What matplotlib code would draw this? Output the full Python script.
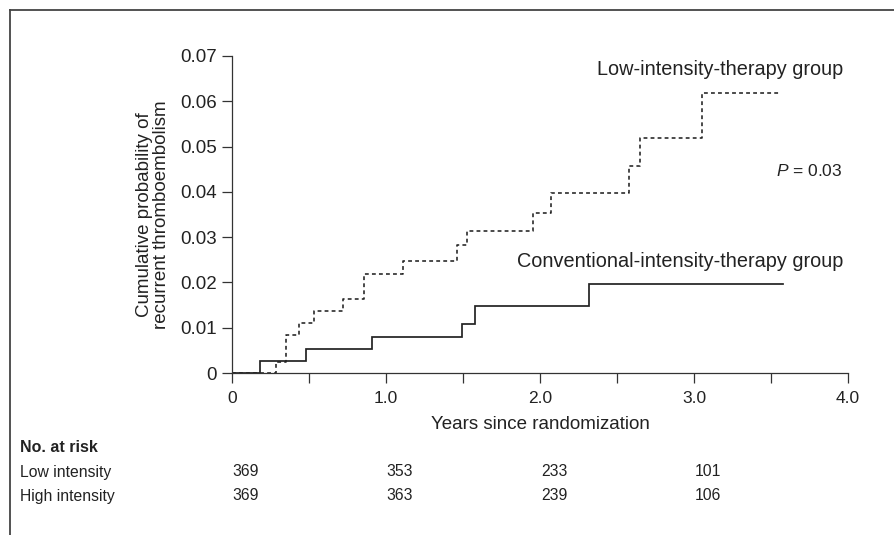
import matplotlib
matplotlib.use("Agg")
import matplotlib.pyplot as plt
from matplotlib.lines import Line2D
from matplotlib.ticker import FixedLocator, FixedFormatter
import matplotlib.transforms as mtransforms

# ---- data ----
conv_time = [0, 0.181, 0.482, 0.911, 1.493, 1.581, 2.315, 3.58]
conv_prob = [0, 0.0027, 0.0053, 0.0079, 0.0109, 0.0147, 0.0196, 0.0196]

low_time = [0, 0.288, 0.349, 0.436, 0.534, 0.724, 0.857, 1.112, 1.464, 1.525,
            1.954, 2.071, 2.580, 2.647, 3.052, 3.55]
low_prob = [0, 0.0025, 0.0083, 0.0111, 0.0137, 0.0163, 0.0218, 0.0247, 0.0282,
            0.0313, 0.0354, 0.0398, 0.0458, 0.0520, 0.0619, 0.0619]

x_ticks = [0, 0.5, 1.0, 1.5, 2.0, 2.5, 3.0, 3.5, 4.0]
x_tick_labels = ["0", "", "1.0", "", "2.0", "", "3.0", "", "4.0"]
y_ticks = [0, 0.01, 0.02, 0.03, 0.04, 0.05, 0.06, 0.07]
y_tick_labels = ["0", "0.01", "0.02", "0.03", "0.04", "0.05", "0.06", "0.07"]

risk_times = [0, 1, 2, 3]
risk_groups = ["Low intensity", "High intensity"]
risk_low = [369, 353, 233, 101]
risk_high = [369, 363, 239, 106]

# ---- fonts ----
plt.rcParams["mathtext.fontset"] = "custom"
plt.rcParams["mathtext.rm"] = "Liberation Sans"
plt.rcParams["mathtext.it"] = "Liberation Sans:italic"
REG = ["Liberation Sans", "DejaVu Sans"]

W, H = 894, 535
fig = plt.figure(figsize=(W / 100, H / 100), dpi=100)
fig.patch.set_facecolor("white")

x0, x1 = 232, 848
yb, yt = 373, 56
ax = fig.add_axes([x0 / W, 1 - yb / H, (x1 - x0) / W, (yb - yt) / H])

ink = "#222222"
ax.step(conv_time, conv_prob, where="post", color=ink, lw=1.25,
        solid_joinstyle="miter")
ax.step(low_time, low_prob, where="post", color=ink, lw=1.15,
        linestyle=(0, (2.4, 2.0)))

ax.set_xlim(0, 4.0)
ax.set_ylim(0, 0.07)
for s in ["top", "right"]:
    ax.spines[s].set_visible(False)
for s in ["left", "bottom"]:
    ax.spines[s].set_color("#333333")
    ax.spines[s].set_linewidth(0.9)

ax.xaxis.set_major_locator(FixedLocator(x_ticks))
ax.xaxis.set_major_formatter(FixedFormatter(x_tick_labels))
ax.yaxis.set_major_locator(FixedLocator(y_ticks))
ax.yaxis.set_major_formatter(FixedFormatter(y_tick_labels))
ax.tick_params(axis="both", direction="out", length=7, width=0.9,
               color="#333333", labelcolor="#222222")
ax.tick_params(axis="x", pad=6)
ax.tick_params(axis="y", pad=4)
for lab in ax.get_yticklabels():
    lab.set_fontfamily(REG)
    lab.set_fontsize(13.5)
for lab in ax.get_xticklabels():
    lab.set_fontfamily(REG)
    lab.set_fontsize(12.5)

ax.set_xlabel("Years since randomization", family=REG, fontsize=13.5,
              color="#222222", labelpad=7)
ax.set_ylabel("Cumulative probability of\nrecurrent thromboembolism",
              family=REG, fontsize=13.5, color="#222222", linespacing=0.98)
ax.yaxis.set_label_coords(-(x0 - 170) / (x1 - x0), 0.5)

ax.text(3.967, 0.0670, "Low-intensity-therapy group", ha="right",
        va="center", family=REG, fontsize=14.3, color="#222222")
ax.text(3.967, 0.0247, "Conventional-intensity-therapy group", ha="right",
        va="center", family=REG, fontsize=14.3, color="#222222")
ax.text(3.967, 0.0445, r"$P$ = 0.03", ha="right", va="center",
        family=REG, fontsize=12.5, color="#222222")

# ---- number at risk table ----
trans = mtransforms.blended_transform_factory(ax.transData, fig.transFigure)
fig.text(20 / W, 1 - 448 / H, "No. at risk", family=REG, fontsize=11.5,
         fontweight="bold", va="center", ha="left", color="#222222")
rows = [risk_low, risk_high]
for i, (name, vals) in enumerate(zip(risk_groups, rows)):
    yy = 1 - (472 + 24 * i) / H
    fig.text(20 / W, yy, name, family=REG, fontsize=11.3, va="center",
             ha="left", color="#222222")
    for t, v in zip(risk_times, vals):
        ax.text(t + 0.005, yy, str(v), transform=trans, family=REG,
                fontsize=11.3, va="center", ha="left", color="#222222",
                clip_on=False)

# ---- partial frame (top and left) ----
fx, fy = 10 / W, 1 - 10 / H
fig.add_artist(Line2D([fx, 1.0], [fy, fy], transform=fig.transFigure,
                      color="#444444", lw=1.3))
fig.add_artist(Line2D([fx, fx], [0.0, fy], transform=fig.transFigure,
                      color="#444444", lw=1.3))

fig.savefig("out.png", dpi=100, facecolor="white")
